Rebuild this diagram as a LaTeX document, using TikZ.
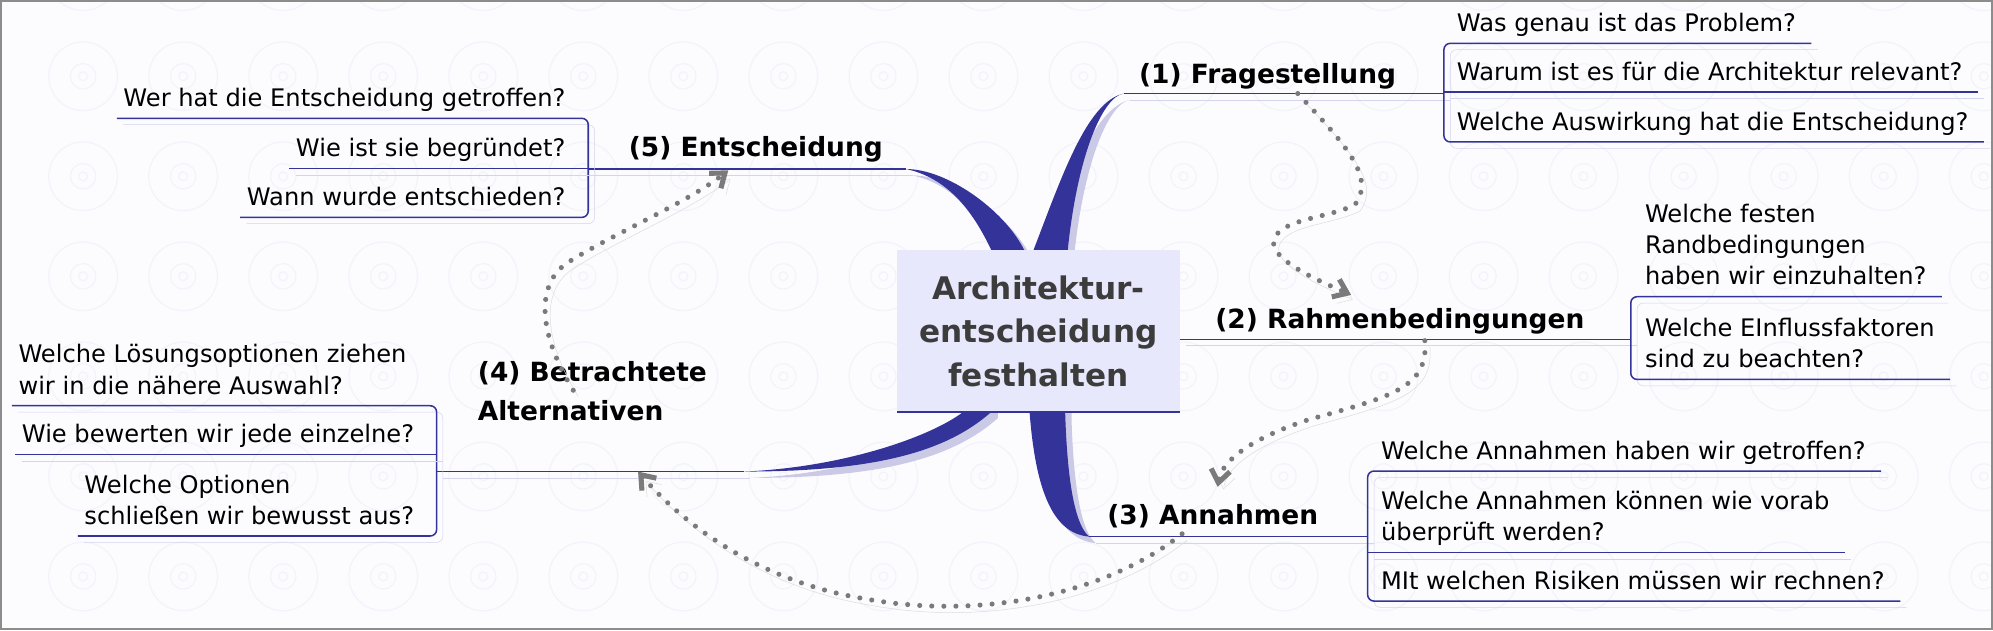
\documentclass[tikz,border=0pt]{standalone}
\usepackage{fontspec}
\setmainfont{DejaVu Sans}
\usetikzlibrary{arrows.meta}

\definecolor{mapblue}{RGB}{51,51,153}
\definecolor{mapshade}{RGB}{202,202,230}
\definecolor{lineshade}{RGB}{212,212,238}
\definecolor{boxfill}{RGB}{232,232,252}
\definecolor{paper}{RGB}{252,252,255}
\definecolor{swirl}{RGB}{243,243,251}
\definecolor{dotgray}{RGB}{122,122,122}
\definecolor{dotshade}{RGB}{220,220,220}
\definecolor{ctrtext}{RGB}{60,60,60}
\definecolor{framegray}{RGB}{140,140,140}

\begin{document}
\begin{tikzpicture}
  [x=1pt,y=-1pt,
   sub/.style={font=\fontsize{19}{24.5}\selectfont,align=left,inner xsep=0pt,inner ysep=1.65pt,
     execute at begin node=\strut,execute at end node=\strut},
   topic/.style={font=\fontsize{20.8}{30}\selectfont\bfseries,align=left,inner sep=0pt,anchor=base west},
   stem/.style={draw=mapblue,line width=1.2pt,preaction={draw=lineshade,transform canvas={shift={(5,5)}}}},
   bracket/.style={stem,rounded corners=5pt},
   branch/.style={fill=mapblue,preaction={fill=mapshade,transform canvas={shift={(5,5)}}}},
   flow/.style={draw=dotgray,line width=4pt,line cap=round,dash pattern=on 0pt off 9.5pt,
     arrows={-{Straight Barb[length=10pt,width=15pt,line width=4pt]}},
     preaction={draw=dotshade,transform canvas={shift={(4,5)}}}}]

  % paper
  \useasboundingbox (0,0) rectangle (1568,495.7);
  \fill[paper] (0,0) rectangle (1568,495.7);
  \foreach \i in {0,...,19}
    \foreach \j in {0,...,6}
      \draw[swirl,line width=1pt] (65.4+78.7*\i,-18.7+78.7*\j) circle[radius=27] circle[radius=10] circle[radius=3.5];

  % branch ends and brackets
  \coordinate (e1) at (884,73.6);
  \coordinate (b1) at (1136,73.6);
  \coordinate (b2) at (1283,267);
  \coordinate (e3) at (857,422.2);
  \coordinate (b3) at (1076,422.2);
  \coordinate (e4) at (585,371);
  \coordinate (b4) at (343.5,371);
  \coordinate (e5) at (713,133);
  \coordinate (b5) at (462.8,133);

  % branches
  \fill[branch] (813,215) -- (813,197) .. controls (835,140) and (855,80) .. (e1)
    .. controls (868,76) and (848,120) .. (840,197) -- (840,215) -- cycle;
  \fill[branch] (806,215) -- (806,197) .. controls (790,165) and (745,133) .. (e5)
    .. controls (745,140) and (765,165) .. (780,197) -- (780,215) -- cycle;
  \fill[branch] (758,310) -- (758,324) .. controls (730,345) and (660,368) .. (e4)
    .. controls (690,371) and (745,355) .. (780,324) -- (780,310) -- cycle;
  \fill[branch] (810,310) -- (810,324) .. controls (815,390) and (830,420) .. (e3)
    .. controls (848,415) and (840,390) .. (838,324) -- (838,310) -- cycle;

  \node[fill=boxfill,minimum width=222pt,minimum height=127pt,inner sep=0pt,align=center,
    font=\fontsize{24.5}{34.3}\selectfont\bfseries,text=ctrtext] (c) at (817,260.5)
    {Architektur-\\entscheidung\\festhalten};
  \draw[mapblue,line width=1.2pt] (c.south west) -- (c.south east);

  \draw[stem] (e1) -- (b1);
  \draw[stem] (c.east |- b2) -- (b2);
  \draw[stem] (e3) -- (b3);
  \draw[stem] (e4) -- (b4);
  \draw[stem] (e5) -- (b5);

  \node[topic] (m1) at (896,65.6) {(1) Fragestellung};
  \node[topic] (m2) at (956,258.3) {(2) Rahmenbedingungen};
  \node[topic] (m3) at (871,412.3) {(3) Annahmen};
  \node[topic] (m4) at (375.8,330.5) {(4) Betrachtete\\Alternativen};
  \node[topic] (m5) at (494.5,123.2) {(5) Entscheidung};

  % (1)
  \node[sub,anchor=south west] (s11) at (1146,34.1) {Was genau ist das Problem?};
  \node[sub,anchor=south west] (s12) at (1146,72.4) {Warum ist es für die Architektur relevant?};
  \node[sub,anchor=south west] (s13) at (1146,111.7) {Welche Auswirkung hat die Entscheidung?};
  \draw[bracket] ([xshift=12pt]s11.south east) -- (s11.south -| b1) -- (s13.south -| b1) -- ([xshift=12pt]s13.south east);
  \draw[stem] (s12.south -| b1) -- ([xshift=12pt]s12.south east);

  % (2)
  \node[sub,anchor=south west] (s21) at (1294,233.4) {Welche festen\\Randbedingungen\\haben wir einzuhalten?};
  \node[sub,anchor=south west] (s22) at (1294,298.5) {Welche EInflussfaktoren\\sind zu beachten?};
  \draw[bracket] ([xshift=12pt]s21.south east) -- (s21.south -| b2) -- (s22.south -| b2) -- ([xshift=12pt]s22.south east);

  % (3)
  \node[sub,anchor=south west] (s31) at (1086.4,370.6) {Welche Annahmen haben wir getroffen?};
  \node[sub,anchor=south west] (s32) at (1086.4,434.6) {Welche Annahmen können wie vorab\\überprüft werden?};
  \node[sub,anchor=south west] (s33) at (1086.4,472.9) {MIt welchen Risiken müssen wir rechnen?};
  \draw[bracket] ([xshift=12pt]s31.south east) -- (s31.south -| b3) -- (s33.south -| b3) -- ([xshift=12pt]s33.south east);
  \draw[stem] (s32.south -| b3) -- ([xshift=12pt]s32.south east);

  % (4)
  \node[sub,anchor=south east] (s41) at (320,319.2) {Welche Lösungsoptionen ziehen\\wir in die nähere Auswahl?};
  \node[sub,anchor=south east] (s42) at (326,357.5) {Wie bewerten wir jede einzelne?};
  \node[sub,anchor=south east] (s43) at (326,421.7) {Welche Optionen\\schließen wir bewusst aus?};
  \draw[bracket] ([xshift=-5pt]s41.south west) -- (s41.south -| b4) -- (s43.south -| b4) -- ([xshift=-5pt]s43.south west);
  \draw[stem] ([xshift=-5pt]s42.south west) -- (s42.south -| b4);

  % (5)
  \node[sub,anchor=south east] (s51) at (445,93.1) {Wer hat die Entscheidung getroffen?};
  \node[sub,anchor=south east] (s52) at (445,132.5) {Wie ist sie begründet?};
  \node[sub,anchor=south east] (s53) at (445,171) {Wann wurde entschieden?};
  \draw[bracket] ([xshift=-5pt]s51.south west) -- (s51.south -| b5) -- (s53.south -| b5) -- ([xshift=-5pt]s53.south west);
  \draw[stem] ([xshift=-5pt]s52.south west) -- (s52.south -| b5);

  % order of the steps
  \coordinate (p1) at (1021,73.6);
  \coordinate (p2) at (1063,232);
  \coordinate (p3) at (1121,268);
  \coordinate (p4) at (958,383);
  \coordinate (p5) at (930,420);
  \coordinate (p6) at (502,371);
  \coordinate (p7) at (451,307);
  \coordinate (p8) at (573,134);
  \draw[flow] (p1) .. controls (1060,115) and (1082,140) .. (1066,161)
    .. controls (1045,172) and (1005,172) .. (1002,190) .. controls (1000,205) and (1040,222) .. (p2);
  \draw[flow] (p3) .. controls (1124,305) and (1095,312) .. (1030,330) .. controls (990,343) and (962,360) .. (p4);
  \draw[flow] (p5) .. controls (870,468) and (770,488) .. (680,471) .. controls (600,458) and (540,415) .. (p6);
  \draw[flow] (p7) .. controls (425,265) and (420,225) .. (446,207) .. controls (480,185) and (540,160) .. (p8);

  \draw[framegray,line width=1.5pt] (0.75,0.75) rectangle (1567.25,494.95);
\end{tikzpicture}
\end{document}
